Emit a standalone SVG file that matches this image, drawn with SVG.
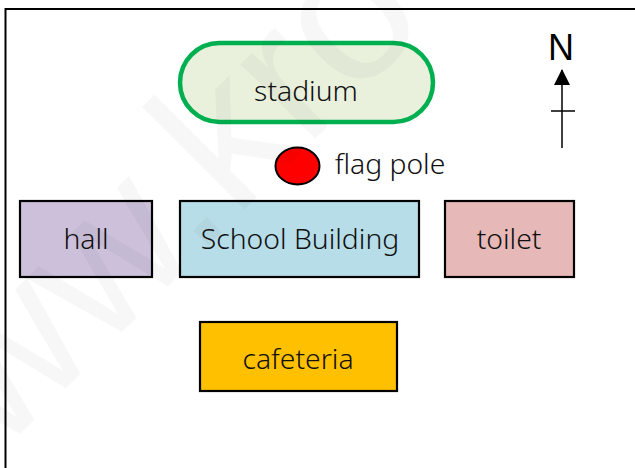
<svg xmlns="http://www.w3.org/2000/svg" width="635" height="468" viewBox="0 0 635 468">
<style>
.b{stroke:#000;stroke-width:2.2}
text{font-family:"Noto Sans","Open Sans",sans-serif;font-weight:300;font-size:28.300px;fill:#111;text-anchor:middle}
</style>
<defs><marker id="a" markerWidth="16" markerHeight="16" refX="15" refY="8" orient="auto" markerUnits="userSpaceOnUse" viewBox="0 0 16 16"><path d="M0 0L16 8L0 16Z"/></marker></defs>
<rect width="635" height="468" fill="#fff"/>
<path id="frame" d="M5.500 468V9H635" fill="none" stroke="#000" stroke-width="2"/>
<g id="stadium"><rect x="180" y="43" width="253" height="79" rx="39.500" fill="#e9f1dd" stroke="#00b050" stroke-width="4.500"/><text x="306" y="101">stadium</text></g>
<g id="flagpole"><ellipse cx="297.500" cy="166" rx="22" ry="18.500" fill="#f00" stroke="#000" stroke-width="2"/><text x="390" y="174">flag pole</text></g>
<g id="hall"><rect class="b" x="20" y="201" width="132" height="76" fill="#ccc0da"/><text x="86" y="249">hall</text></g>
<g id="school"><rect class="b" x="180" y="201" width="239" height="76" fill="#b7dde8"/><text x="300" y="249">School Building</text></g>
<g id="toilet"><rect class="b" x="445" y="201" width="129" height="76" fill="#e6b8b7"/><text x="509" y="249">toilet</text></g>
<g id="cafeteria"><rect class="b" x="200" y="322" width="197" height="69" fill="#ffc000"/><text x="298" y="369">cafeteria</text></g>
<g id="north"><text x="561" y="60" style="font-family:'Liberation Sans',sans-serif;font-weight:400;font-size:36px;fill:#000">N</text>
<g id="connectors" fill="none" stroke="#000" stroke-width="1.500"><path d="M562 148V70" marker-end="url(#a)"/><path d="M551 111H575"/></g></g>
<text id="watermark" transform="translate(-103 557) rotate(-45)" style="font-family:'Liberation Sans',sans-serif;font-weight:400;font-size:200px;fill:#000;fill-opacity:.03;text-anchor:start">www.kro</text>
</svg>
